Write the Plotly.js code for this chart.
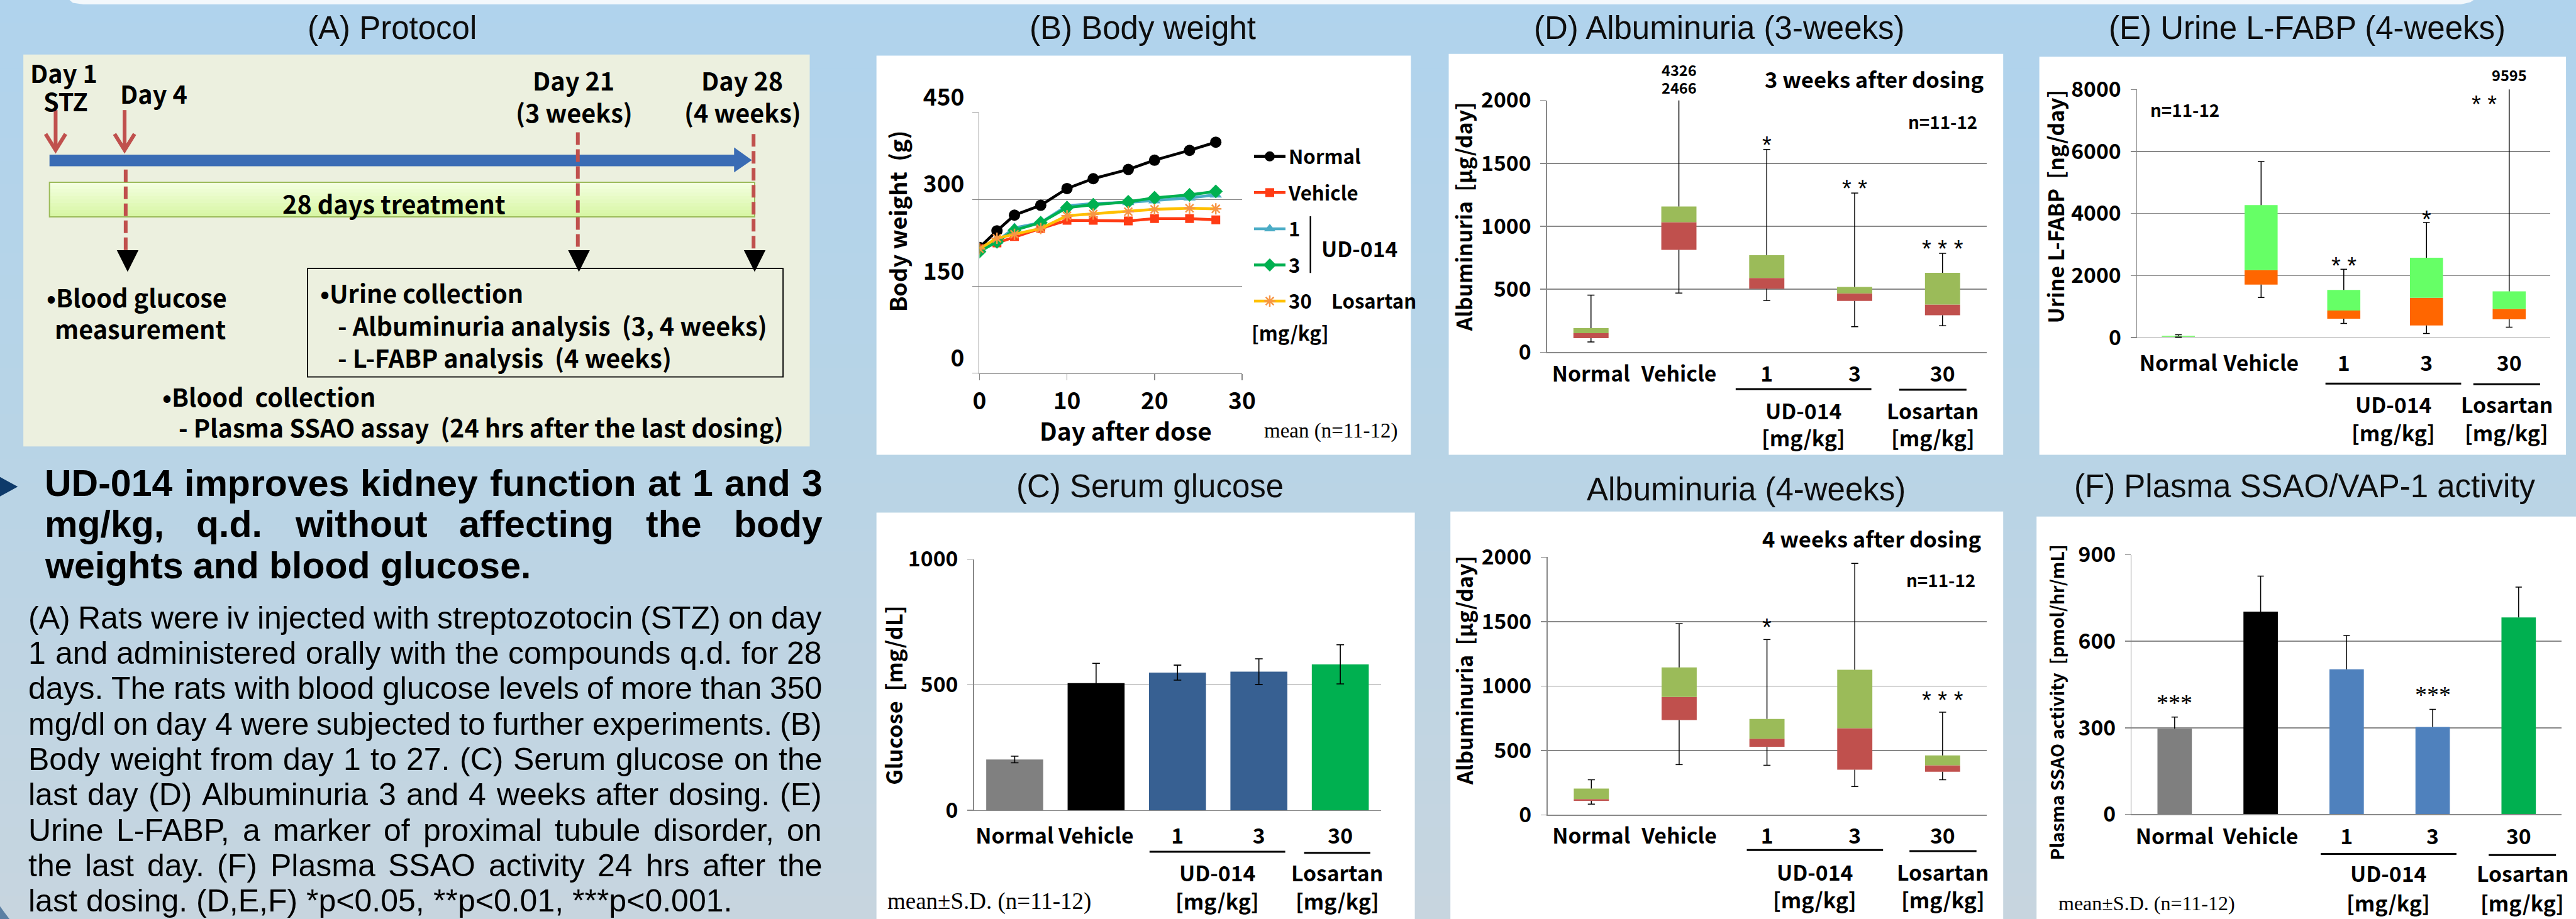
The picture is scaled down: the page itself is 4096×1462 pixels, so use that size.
<!DOCTYPE html>
<html>
<head>
<meta charset="utf-8">
<script src="https://cdn.plot.ly/plotly-3.0.1.min.js"></script>
<style>
html,body{margin:0;padding:0;background:#b8d4e7;overflow:hidden;}
#chart{width:4096px;height:1462px;}
</style>
</head>
<body>
<div id="chart"></div>
<script>
// ================= DATA =================
const groups = ["Normal", "Vehicle", "1", "3", "30"];
const drugNames = ["UD-014", "Losartan"];
const doseUnit = "[mg/kg]";

// (B) Body weight (g), mean
const bwDays    = [0, 2, 4, 7, 10, 13, 17, 20, 24, 27];
const bwNormal  = [217, 246, 273, 290, 319, 336, 352, 368, 385, 399];
const bwVehicle = [215, 225, 236, 250, 264, 264, 263, 267, 267, 265];
const bwUD1     = [212, 228, 251, 260, 289, 293, 295, 298, 303, 308];
const bwUD3     = [210, 227, 247, 260, 286, 291, 296, 303, 308, 314];
const bwLos30   = [215, 233, 240, 250, 272, 275, 279, 283, 285, 284];
const bwLegend  = ["Normal", "Vehicle", "1", "3", "30 Losartan"];
const bwXTicks  = [0, 10, 20, 30];
const bwYTicks  = [0, 150, 300, 450];

// (C) Serum glucose (mg/dL), mean and SD
const glucoseMean = [202, 506, 548, 552, 581];
const glucoseSD   = [13, 79, 30, 51, 78];

// (D) Albuminuria 3 weeks (ug/day): min, Q1, median, Q3, max
const alb3Min = [82, 470, 411, 203, 210];
const alb3Q1  = [112, 813, 505, 407, 294];
const alb3Med = [152, 1033, 589, 467, 379];
const alb3Q3  = [192, 1157, 771, 519, 631];
const alb3Max = [453, 4326, 1610, 1264, 785];
const alb3Sig = ["", "", "*", "**", "***"];
const alb3Offscale = [4326, 2466];

// Albuminuria 4 weeks
const alb4Min = [84, 390, 385, 220, 272];
const alb4Q1  = [109, 736, 528, 351, 335];
const alb4Med = [122, 915, 591, 673, 385];
const alb4Q3  = [204, 1144, 745, 1126, 462];
const alb4Max = [272, 1484, 1361, 1952, 797];
const alb4Sig = ["", "", "*", "", "***"];

// (E) Urine L-FABP 4 weeks (ng/day)
const fabpMin = [15, 1290, 455, 133, 332];
const fabpQ1  = [20, 1708, 607, 389, 588];
const fabpMed = [25, 2173, 873, 1281, 920];
const fabpQ3  = [55, 4270, 1537, 2572, 1490];
const fabpMax = [90, 5675, 2202, 3710, 9595];
const fabpSig = ["", "", "**", "*", "**"];

// (F) Plasma SSAO activity (pmol/hr/mL), mean and SD
const ssaoMean = [297, 703, 503, 303, 683];
const ssaoSD   = [40, 123, 117, 61, 105];
const ssaoSig  = ["***", "", "", "***", ""];

const headLines = [
  "UD-014 improves kidney function at 1 and 3",
  "mg/kg, q.d. without affecting the body",
  "weights and blood glucose."
];
const bodyLines = [
  "(A) Rats were iv injected with streptozotocin (STZ) on day",
  "1 and administered orally with the compounds q.d. for 28",
  "days. The rats with blood glucose levels of more than 350",
  "mg/dl on day 4 were subjected to further experiments. (B)",
  "Body weight from day 1 to 27. (C) Serum glucose on the",
  "last day (D) Albuminuria 3 and 4 weeks after dosing. (E)",
  "Urine L-FABP, a marker of proximal tubule disorder, on",
  "the last day. (F) Plasma SSAO activity 24 hrs after the",
  "last dosing. (D,E,F) *p<0.05, **p<0.01, ***p<0.001."
];

// ================= HELPERS =================
const RW = 4632, RH = 1653, S = 4096 / RW;
const px = x => x / RW, py = y => 1 - y / RH;
const shapes = [], annotations = [];
const cv = document.createElement('canvas').getContext('2d');
function fontOK(name) {
  const t = 'Normal Vehicle 0123456789';
  cv.font = '700 100px monospace'; const a = cv.measureText(t).width;
  cv.font = '700 100px "' + name + '", monospace'; const b = cv.measureText(t).width;
  return Math.abs(a - b) > 0.5;
}
let NF, NS = 1;
if (fontOK('Liberation Sans Narrow')) NF = 'Liberation Sans Narrow';
else if (fontOK('Arial Narrow')) NF = 'Arial Narrow';
else {
  NF = 'Noto Sans CJK JP';
  cv.font = '700 100px "Liberation Sans"'; const wa = cv.measureText('Normal Vehicle Losartan 0123').width * 0.82;
  cv.font = '700 100px "Noto Sans CJK JP"'; const wn = cv.measureText('Normal Vehicle Losartan 0123').width;
  NS = Math.min(1, Math.max(0.75, wa / wn)) * 1.06;
}
const NFF = NF + ', Noto Sans CJK JP, sans-serif';
const SANS = 'Liberation Sans, Arial, sans-serif';
const SERIF = 'Liberation Serif, Times New Roman, serif';
const esc = s => s.replace(/&/g, '&amp;').replace(/</g, '&lt;').replace(/>/g, '&gt;');

function rect(x0, y0, x1, y1, fill, lineColor, lw, layer) {
  shapes.push({type: 'rect', xref: 'paper', yref: 'paper', x0: px(x0), x1: px(x1), y0: py(y1), y1: py(y0),
    fillcolor: fill || 'rgba(0,0,0,0)', line: {color: lineColor || 'rgba(0,0,0,0)', width: lw || 0}, layer: layer || 'below'});
}
function seg(x0, y0, x1, y1, color, lw, dash, layer) {
  shapes.push({type: 'line', xref: 'paper', yref: 'paper', x0: px(x0), x1: px(x1), y0: py(y0), y1: py(y1),
    line: {color: color, width: lw, dash: dash || 'solid'}, layer: layer || 'above'});
}
function poly(pts, fill, lineColor, lw, closed, layer) {
  const d = pts.map((p, i) => (i ? 'L' : 'M') + px(p[0]).toFixed(6) + ',' + py(p[1]).toFixed(6)).join(' ') + (closed === false ? '' : ' Z');
  shapes.push({type: 'path', xref: 'paper', yref: 'paper', path: d, fillcolor: fill || 'rgba(0,0,0,0)',
    line: {color: lineColor || 'rgba(0,0,0,0)', width: lw || 0}, layer: layer || 'above'});
}
function T(x, y, text, size, o) {
  o = o || {};
  const fam = o.family || NFF;
  annotations.push({xref: 'paper', yref: 'paper', x: px(x), y: py(y), text: text, showarrow: false,
    xanchor: o.xa || 'center', yanchor: 'middle', textangle: o.rot || 0, borderpad: 0,
    font: {family: fam, size: o.family ? size : size * NS, weight: o.weight === undefined ? 700 : o.weight, color: o.color || '#000'}});
}
function lerp(a, b, t) { return a.map((v, i) => Math.round(v + (b[i] - v) * t)); }

// ================= BACKGROUND =================
const bgStops = [[0, [176, 211, 237]], [800, [184, 212, 230]], [1653, [199, 213, 223]]];
function bgAt(y) {
  for (let k = 0; k < bgStops.length - 1; k++) {
    if (y <= bgStops[k + 1][0]) {
      const t = (y - bgStops[k][0]) / (bgStops[k + 1][0] - bgStops[k][0]);
      return 'rgb(' + lerp(bgStops[k][1], bgStops[k + 1][1], t).join(',') + ')';
    }
  }
  return 'rgb(' + bgStops[bgStops.length - 1][1].join(',') + ')';
}
const NB = 40;
for (let i = 0; i < NB; i++) {
  const y0 = i * RH / NB, y1 = (i + 1) * RH / NB + 1;
  rect(0, y0, RW, y1, bgAt((y0 + y1) / 2), null, 0, 'below');
}
poly([[125, 0], [131, 5], [150, 8], [4425, 8], [4442, 4], [4448, 0]], '#f3f8fc', null, 0, true, 'below');

// panels
rect(42, 98, 1456, 803, '#ecf0df');
rect(1576, 100, 2537, 818, '#ffffff');
rect(1576, 922, 2544, 1653, '#ffffff');
rect(2605, 97, 3602, 818, '#ffffff');
rect(2608, 920, 3602, 1653, '#ffffff');
rect(3667, 102, 4614, 818, '#ffffff');
rect(3662, 929, 4632, 1653, '#ffffff');

// panel titles
const TF = {family: SANS, weight: 400, color: '#0d0d0d'};
T(705, 50, '(A) Protocol', 51, TF);
T(2055, 50, '(B) Body weight', 51, TF);
T(2068, 875, '(C) Serum glucose', 51, TF);
T(3092, 50, '(D) Albuminuria (3-weeks)', 51, TF);
T(3140, 880, 'Albuminuria (4-weeks)', 51, TF);
T(4148, 50, '(E) Urine L-FABP (4-weeks)', 51, TF);
T(4145, 875, '(F) Plasma SSAO/VAP-1 activity', 51, TF);

// ================= (A) PROTOCOL =================
const RED = '#c0504d';
const gTop = [244, 255, 226], gBot = [214, 245, 162];
for (let k = 0; k < 10; k++) rect(89, 328 + k * 6.2, 1357, 328 + (k + 1) * 6.2 + 0.5, 'rgb(' + lerp(gTop, gBot, (k + 0.5) / 10).join(',') + ')');
rect(89, 328, 1357, 390, null, '#9bbb59', 2);
rect(553, 483, 1408, 678, null, '#000000', 1.8);
poly([[89, 278], [1320, 278], [1320, 265], [1352, 288], [1320, 310], [1320, 299], [89, 299]], '#3a6cb4');
[100, 224].forEach(x => {
  seg(x, 198, x, 266, RED, 6);
  poly([[x - 18, 241], [x, 270], [x + 18, 241]], null, RED, 6, false);
});
seg(226, 305, 226, 450, RED, 6, '20px,7px');
seg(1039, 238, 1039, 450, RED, 6, '20px,7px');
seg(1355, 241, 1355, 452, RED, 6, '20px,7px');
[229.5, 1041, 1357].forEach(x => poly([[x - 19.5, 450], [x + 19.5, 450], [x, 489]], '#000000'));
const PF = 47;
T(115, 130, 'Day 1', PF);
T(118, 180, 'STZ', PF);
T(276, 167, 'Day 4', PF);
T(1031, 143, 'Day 21', PF);
T(1032, 201, '(3 weeks)', PF);
T(1334, 143, 'Day 28', PF);
T(1335, 201, '(4 weeks)', PF);
T(708, 365, '28 days treatment', PF);
T(82, 533, '\u2022Blood glucose', PF, {xa: 'left'});
T(97, 590, 'measurement', PF, {xa: 'left'});
T(574, 525, '\u2022Urine collection', PF, {xa: 'left'});
T(606, 584, '- Albuminuria analysis\u00a0 (3, 4 weeks)', PF, {xa: 'left'});
T(606, 642, '- L-FABP analysis\u00a0 (4 weeks)', PF, {xa: 'left'});
T(291, 712, '\u2022Blood\u00a0\u00a0collection', PF, {xa: 'left'});
T(320, 767, '- Plasma SSAO assay\u00a0 (24 hrs after the last dosing)', PF, {xa: 'left'});

// ================= LEFT TEXT =================
poly([[0, 858], [32, 875.5], [0, 893]], '#0e3a6a');
poly([[0, 1630], [8, 1641], [17, 1653], [0, 1653]], '#5b7fa3');
function addJustified(lines, x0, x1, yc0, dy, size, weight, lastLeft) {
  const cfont = weight + ' ' + size + 'px "Liberation Sans", Arial, sans-serif';
  cv.font = cfont;
  const spaceW = cv.measureText(' ').width;
  lines.forEach((line, li) => {
    const words = line.split(/\s+/).filter(Boolean);
    const ws = words.map(w => cv.measureText(w).width);
    const X0 = x0 * S, X1 = x1 * S;
    const total = ws.reduce((a, b) => a + b, 0);
    const justify = !(lastLeft && li === lines.length - 1) && words.length > 1;
    const gap = justify ? (X1 - X0 - total) / (words.length - 1) : spaceW;
    let x = X0;
    words.forEach((w, i) => {
      annotations.push({xref: 'paper', yref: 'paper', x: x / 4096, y: py(yc0 + li * dy), xanchor: 'left', yanchor: 'middle',
        text: esc(w), showarrow: false, borderpad: 0, font: {family: SANS, size: size, weight: weight, color: '#000'}});
      x += ws[i] + gap;
    });
  });
}
addJustified(headLines, 79, 1478, 869, 74.5, 59, 700, true);
addJustified(bodyLines, 50, 1477, 1111, 63.7, 50, 400, true);

// ================= AXES =================
const GRID = '#898989';
const axisBase = {showline: true, linecolor: GRID, linewidth: 1.5, ticks: 'outside', tickcolor: GRID, tickwidth: 1.5, ticklen: 9,
  gridcolor: GRID, gridwidth: 1.5, zeroline: false, fixedrange: true,
  tickfont: {family: NFF, size: 40 * NS, weight: 700, color: '#000'}};
const xi = groups.map((_, i) => i);
function xcat(x0, x1, anchor, standoff) {
  return Object.assign({}, axisBase, {domain: [px(x0), px(x1)], anchor: anchor, range: [-0.5, 4.5], tickmode: 'array',
    tickvals: xi, ticktext: groups, showgrid: false, ticks: '', ticklen: 0, ticklabelstandoff: standoff});
}
function ylin(y0, y1, anchor, range, dtick) {
  return Object.assign({}, axisBase, {domain: [py(y0), py(y1)], anchor: anchor, range: range, tick0: 0, dtick: dtick,
    showgrid: true, ticklabelstandoff: 8});
}

const data = [];
// ---------- (B) body weight ----------
const bwSeries = [bwNormal, bwVehicle, bwUD1, bwUD3, bwLos30];
const bwStyle = [
  {c: '#000000', m: {symbol: 'circle', size: 18, color: '#000000'}},
  {c: '#ff3b14', m: {symbol: 'square', size: 14, color: '#ff3b14'}},
  {c: '#4bacc6', m: {symbol: 'triangle-up', size: 17, color: '#4bacc6'}},
  {c: '#00b050', m: {symbol: 'diamond', size: 17, color: '#00b050'}},
  {c: '#ffc000', m: {symbol: 'asterisk-open', size: 15, color: '#f79646', line: {color: '#f79646', width: 2.5}}}
];
bwSeries.forEach((ys, k) => {
  data.push({type: 'scatter', mode: 'lines+markers', x: bwDays, y: ys, name: bwLegend[k].replace(' ', '\u2003'),
    legendgroup: 'g' + k, line: {color: bwStyle[k].c, width: 4.5}, marker: bwStyle[k].m, xaxis: 'x', yaxis: 'y', showlegend: true});
});

// ---------- (C) glucose ----------
data.push({type: 'bar', x: xi, y: glucoseMean, width: 0.7, xaxis: 'x2', yaxis: 'y2', showlegend: false,
  marker: {color: ['#808080', '#000000', '#376092', '#376092', '#00b050'], line: {width: 0}},
  error_y: {type: 'data', array: glucoseSD, visible: true, color: '#000', thickness: 1.6, width: 6}});

// ---------- box plots ----------
function boxTraces(mn, q1, md, q3, mx, lo, hi, xa, ya) {
  data.push({type: 'bar', x: xi, base: q1, y: md.map((m, i) => m - q1[i]), width: 0.4, xaxis: xa, yaxis: ya, showlegend: false,
    marker: {color: lo, line: {width: 0}}});
  data.push({type: 'bar', x: xi, base: md, y: q3.map((q, i) => q - md[i]), width: 0.4, xaxis: xa, yaxis: ya, showlegend: false,
    marker: {color: hi, line: {width: 0}}});
  const cw = 0.04, wx = [], wy = [];
  xi.forEach((x, i) => {
    wx.push(x, x, null, x, x, null, x - cw, x + cw, null, x - cw, x + cw, null);
    wy.push(q3[i], mx[i], null, mn[i], q1[i], null, mx[i], mx[i], null, mn[i], mn[i], null);
  });
  data.push({type: 'scatter', mode: 'lines', x: wx, y: wy, xaxis: xa, yaxis: ya, showlegend: false,
    line: {color: '#000', width: 1.5}, connectgaps: false});
}
boxTraces(alb3Min, alb3Q1, alb3Med, alb3Q3, alb3Max, '#c0504d', '#9bbb59', 'x3', 'y3');
boxTraces(alb4Min, alb4Q1, alb4Med, alb4Q3, alb4Max, '#c0504d', '#9bbb59', 'x4', 'y4');
boxTraces(fabpMin, fabpQ1, fabpMed, fabpQ3, fabpMax, '#ff6600', '#66ff66', 'x5', 'y5');

// ---------- (F) SSAO ----------
data.push({type: 'bar', x: xi, y: ssaoMean, width: 0.4, xaxis: 'x6', yaxis: 'y6', showlegend: false,
  marker: {color: ['#7f7f7f', '#000000', '#4f81bd', '#4f81bd', '#00b050'], line: {width: 0}}});
(function () {
  const cw = 0.037, ex = [], ey = [];
  xi.forEach((x, i) => {
    const t = ssaoMean[i] + ssaoSD[i];
    ex.push(x, x, null, x - cw, x + cw, null);
    ey.push(ssaoMean[i], t, null, t, t, null);
  });
  data.push({type: 'scatter', mode: 'lines', x: ex, y: ey, xaxis: 'x6', yaxis: 'y6', showlegend: false,
    line: {color: '#000', width: 1.5}, connectgaps: false});
})();

// ---------- significance marks ----------
function sigMarks(sig, top, xa, ya, ymax, yshift, size, family, join) {
  sig.forEach((s, i) => {
    if (!s) return;
    const off = top[i] > ymax;
    annotations.push({xref: xa, yref: ya, x: i, y: off ? ymax * 0.94 : top[i], xshift: off ? -40 : 0, yshift: off ? 0 : yshift,
      text: s.split('').join(join), showarrow: false, xanchor: 'center', yanchor: 'middle', borderpad: 0,
      font: {family: family, size: size, weight: 400, color: '#000'}});
  });
}
sigMarks(alb3Sig, alb3Max, 'x3', 'y3', 2000, 7, 38, SANS, ' ');
sigMarks(alb4Sig, alb4Max, 'x4', 'y4', 2000, 19, 38, SANS, ' ');
sigMarks(fabpSig, fabpMax, 'x5', 'y5', 8000, 5, 38, SANS, ' ');
sigMarks(ssaoSig, ssaoMean.map((m, i) => m + ssaoSD[i]), 'x6', 'y6', 900, 23, 38, SERIF, '');

// ---------- group labels under x axes ----------
function groupLabels(ud, los, y1, y2) {
  seg(ud[0], ud[2], ud[1], ud[2], '#000', 3);
  seg(los[0], los[2], los[1], los[2], '#000', 3);
  const cu = (ud[0] + ud[1]) / 2, cl = (los[0] + los[1]) / 2;
  T(cu, y1, drugNames[0], 40); T(cu, y2, doseUnit, 40);
  T(cl, y1, drugNames[1], 40); T(cl, y2, doseUnit, 40);
}
groupLabels([2067, 2311, 1532], [2345, 2464, 1534], 1569, 1620);
groupLabels([3121, 3365, 700], [3415, 3536, 701], 738, 786.5);
groupLabels([3141, 3386, 1529], [3433.5, 3554, 1531], 1567.5, 1617);
groupLabels([4181.5, 4425.5, 690], [4447.4, 4567.4, 691], 726, 777);
groupLabels([4173, 4417, 1536], [4475, 4596, 1538], 1570, 1623);

// ---------- per-panel texts ----------
// B
T(2024, 773, 'Day after dose', 46);
T(1613, 398, 'Body weight\u00a0\u00a0(g)', 43, {rot: -90});
T(2394, 775, 'mean (n=11-12)', 33, {family: SERIF, weight: 400});
seg(2356.4, 389, 2356.4, 491, '#000', 2.5);
T(2374.6, 446, drugNames[0], 40, {xa: 'left'});
T(2249, 597, doseUnit, 37, {xa: 'left'});
// C
T(1605, 1250, 'Glucose\u00a0\u00a0[mg/dL]', 41, {rot: -90});
T(1595, 1621.6, 'mean\u00b1S.D. (n=11-12)', 37, {family: SERIF, weight: 400, xa: 'left'});
// D
T(2632, 390, 'Albuminuria\u00a0\u00a0[\u03bcg/day]', 40, {rot: -90});
T(3568.6, 141.8, '3 weeks after dosing', 41, {xa: 'right'});
T(3556, 218, 'n=11-12', 33, {xa: 'right'});
[126, 157].forEach((yy, k) => annotations.push({xref: 'x3', yref: 'paper', x: 1, y: py(yy), text: String(alb3Offscale[k]),
  showarrow: false, xanchor: 'center', yanchor: 'middle', borderpad: 0, font: {family: NFF, size: 28 * NS, weight: 700, color: '#000'}}));
// D2
T(2632, 1206, 'Albuminuria\u00a0\u00a0[\u03bcg/day]', 40, {rot: -90});
T(3564.5, 967.5, '4 weeks after dosing', 41, {xa: 'right'});
T(3553, 1042.6, 'n=11-12', 33, {xa: 'right'});
// E
T(3694, 372, 'Urine L-FABP\u00a0\u00a0[ng/day]', 40, {rot: -90});
T(3865, 197, 'n=11-12', 33, {xa: 'left'});
annotations.push({xref: 'x5', yref: 'paper', x: 4, y: py(135), text: String(fabpMax[4]), showarrow: false, xanchor: 'center',
  yanchor: 'middle', borderpad: 0, font: {family: NFF, size: 28 * NS, weight: 700, color: '#000'}});
// F
T(3697.5, 1264, 'Plasma SSAO activity\u00a0\u00a0[pmol/hr/mL]', 34, {rot: -90});
T(3700.7, 1625, 'mean\u00b1S.D. (n=11-12)', 32, {family: SERIF, weight: 400, xa: 'left'});

// ================= LAYOUT =================
const layout = {
  width: 4096, height: 1462, autosize: false,
  margin: {l: 0, r: 0, t: 0, b: 0, pad: 0},
  paper_bgcolor: '#b8d4e7', plot_bgcolor: 'rgba(0,0,0,0)',
  barmode: 'overlay', hovermode: false, dragmode: false,
  showlegend: true,
  legend: {x: 1989 / 4096, y: 1 - 222 / 1462, xanchor: 'left', yanchor: 'top', bgcolor: 'rgba(0,0,0,0)', borderwidth: 0,
    font: {family: NFF, size: 37 * NS, weight: 700, color: '#000'}, itemwidth: 50, tracegroupgap: 14, traceorder: 'grouped'},
  xaxis: Object.assign({}, axisBase, {domain: [px(1761.2), px(2233.4)], anchor: 'y', range: [0, 30], tickmode: 'array',
    tickvals: bwXTicks, showgrid: false, ticklen: 10, ticklabelstandoff: 1,
    tickfont: {family: NFF, size: 44 * NS, weight: 700, color: '#000'}}),
  yaxis: Object.assign({}, axisBase, {domain: [py(671.2), py(202.7)], anchor: 'x', range: [0, 450], tickmode: 'array',
    tickvals: bwYTicks, showgrid: true, ticklen: 10, ticklabelstandoff: 5, ticklabelshift: -24,
    tickfont: {family: NFF, size: 44 * NS, weight: 700, color: '#000'}}),
  xaxis2: xcat(1751.4, 2483.2, 'y2', 11),
  yaxis2: ylin(1457.3, 1005.8, 'x2', [0, 1000], 500),
  xaxis3: xcat(2781.8, 3572, 'y3', 5),
  yaxis3: ylin(633.6, 180.5, 'x3', [0, 2000], 500),
  xaxis4: xcat(2782.5, 3572, 'y4', 4),
  yaxis4: ylin(1465.7, 1002.2, 'x4', [0, 2000], 500),
  xaxis5: xcat(3842.7, 4586.2, 'y5', 11),
  yaxis5: ylin(607.1, 160.9, 'x5', [0, 8000], 2000),
  xaxis6: xcat(3833, 4606.2, 'y6', 6),
  yaxis6: ylin(1464.6, 998, 'x6', [0, 900], 300),
  shapes: shapes,
  annotations: annotations
};

Plotly.newPlot('chart', data, layout, {staticPlot: true, displayModeBar: false});
</script>
</body>
</html>
